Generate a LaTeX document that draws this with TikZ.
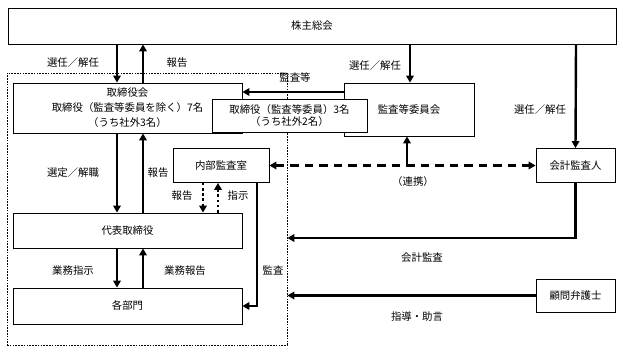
\documentclass[tikz,border=0pt]{standalone}
\usepackage{fontspec}
\setmainfont{Noto Sans CJK JP}
\usetikzlibrary{arrows.meta,positioning}
\tikzset{
  org node/.style={draw,line width=0.8pt,fill=white,align=center,
    inner sep=2pt,font=\fontsize{10.4}{15}\selectfont},
  company box/.style={draw,line width=0.7pt,dash pattern=on 1.6pt off 1.2pt},
  main arrow/.style={-{Triangle[length=7pt,width=7.5pt]},line width=2.4pt},
  link arrow/.style={{Triangle[length=7pt,width=7.5pt]}-{Triangle[length=7pt,width=7.5pt]},
    line width=2.4pt,dash pattern=on 8.5pt off 6pt},
  dot arrow/.style={-{Triangle[length=7pt,width=7.5pt]},line width=2.6pt,
    dash pattern=on 2.6pt off 2.6pt},
  flow label/.style={font=\fontsize{10.4}{13}\selectfont,inner sep=1pt},
}
\begin{document}
\begin{tikzpicture}[x=1pt,y=-1pt]
  \useasboundingbox (0,0) rectangle (623,352);

  % columns of the vertical connectors
  \coordinate (colL) at (117,0);
  \coordinate (colR) at (143,0);
  \coordinate (colC) at (410,0);
  \coordinate (colK) at (576,0);
  \coordinate (colUp) at (407,0);
  \coordinate (colN1) at (203,0);
  \coordinate (colN2) at (218,0);
  \coordinate (colA) at (257,0);
  \coordinate (rowKt) at (0,92);
  \coordinate (rowKa) at (0,238);

  \node[company box,minimum width=280pt,minimum height=272pt] (company)
    at (147,209) {};

  \node[org node,minimum width=608pt,minimum height=36pt] (soukai)
    at (312,26) {株主総会};
  \node[org node,minimum width=229pt,minimum height=50pt] (torikai)
    at (127.5,108) {取締役会\\取締役（監査等委員を除く）7名\\（うち社外3名）};
  \node[org node,minimum width=130pt,minimum height=53pt] (iinkai)
    at (409,109.5) {監査等委員会};
  \node[org node,minimum width=155pt,minimum height=33pt,
    font=\fontsize{10.4}{12.5}\selectfont] (iinmember) at (289.5,115.5)
    {取締役（監査等委員）3名\\（うち社外2名）};
  \node[org node,minimum width=96pt,minimum height=34pt] (naibu)
    at (221,165.5) {内部監査室};
  \node[org node,minimum width=229pt,minimum height=35pt] (daihyo)
    at (127.5,230.5) {代表取締役};
  \node[org node,minimum width=229pt,minimum height=36pt] (kakubumon)
    at (127.5,306) {各部門};
  \node[org node,minimum width=79pt,minimum height=34pt] (kaikei)
    at (575.5,165.5) {会計監査人};
  \node[org node,minimum width=79pt,minimum height=33pt] (bengoshi)
    at (575.5,295.5) {顧問弁護士};

  % shareholders and the board
  \draw[main arrow] (soukai.south -| colL) -- (torikai.north -| colL);
  \draw[main arrow] (torikai.north -| colR) -- (soukai.south -| colR);
  \draw[main arrow] (soukai.south -| colC) -- (iinkai.north -| colC);
  \draw[main arrow] (soukai.south -| colK) -- (kaikei.north);
  \draw[main arrow] (iinkai.west |- rowKt) -- (torikai.east |- rowKt);

  \draw[main arrow] (torikai.south -| colL) -- (daihyo.north -| colL);
  \draw[main arrow] (daihyo.north -| colR) -- (torikai.south -| colR);
  \draw[main arrow] (daihyo.south -| colL) -- (kakubumon.north -| colL);
  \draw[main arrow] (kakubumon.north -| colR) -- (daihyo.south -| colR);

  \draw[dot arrow] (naibu.south -| colN1) -- (daihyo.north -| colN1);
  \draw[dot arrow] (daihyo.north -| colN2) -- (naibu.south -| colN2);
  \draw[main arrow] (naibu.south -| colA) |- (kakubumon.east);

  % outside parties
  \draw[link arrow] (naibu.east) -- (kaikei.west);
  \draw[main arrow] (colUp |- kaikei.west) -- (iinkai.south -| colUp);
  \draw[main arrow] (kaikei.south) |- (company.east |- rowKa);
  \draw[main arrow] (bengoshi.west) -- (bengoshi.west -| company.east);

  \node[flow label] (lbsennin) at (73,63) {選任／解任};
  \node[flow label] (lbhoukoku) at (177,63) {報告};
  \node[flow label] (lbsennin2) at (375,66) {選任／解任};
  \node[flow label] (lbkansatou) at (295,78) {監査等};
  \node[flow label] (lbsennin3) at (540,110) {選任／解任};
  \node[flow label] (lbsentei) at (73,173) {選定／解職};
  \node[flow label] (lbhoukoku2) at (158,173) {報告};
  \node[flow label] (lbhoukoku3) at (182,196) {報告};
  \node[flow label] (lbshiji) at (238,196) {指示};
  \node[flow label] (lbrenkei) at (413,182) {（連携）};
  \node[flow label] (lbgyoumu) at (73,271) {業務指示};
  \node[flow label] (lbgyoumu2) at (185,271) {業務報告};
  \node[flow label] (lbkansa) at (273,270) {監査};
  \node[flow label] (lbkaikei) at (422,258) {会計監査};
  \node[flow label] (lbshidou) at (417,317) {指導・助言};
\end{tikzpicture}
\end{document}
